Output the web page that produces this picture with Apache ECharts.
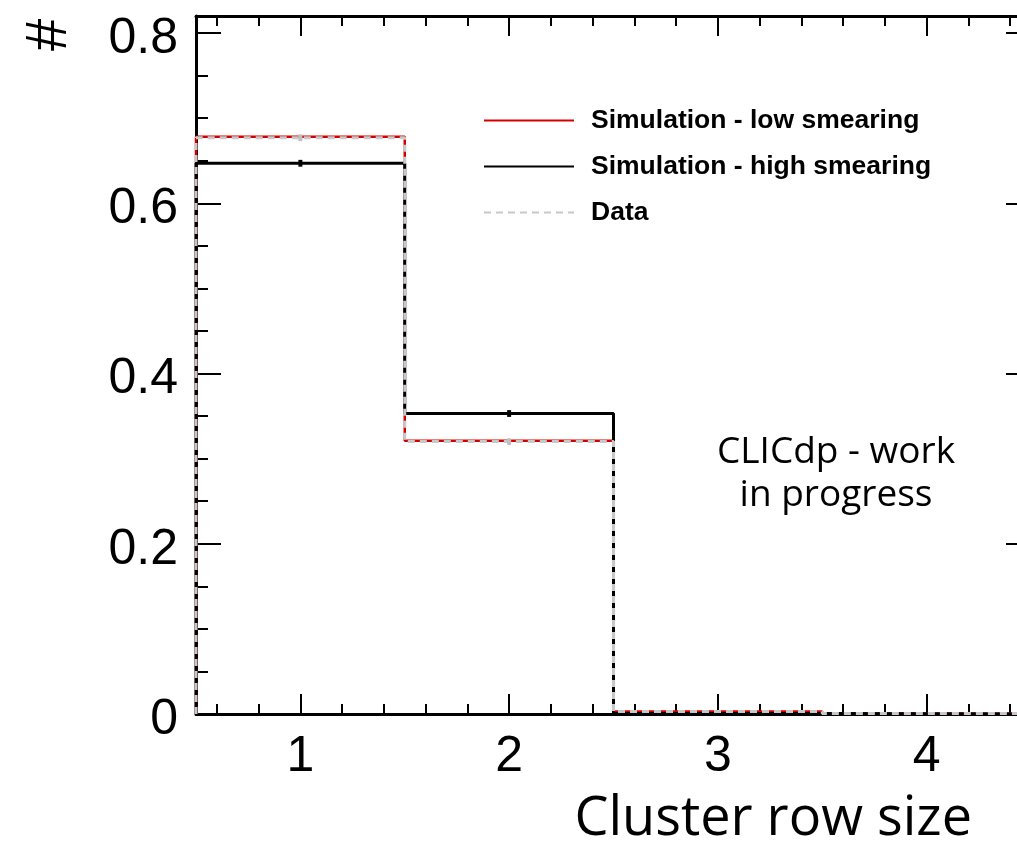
<!DOCTYPE html>
<html>
<head>
<meta charset="utf-8">
<script src="https://cdn.jsdelivr.net/npm/echarts@6/dist/echarts.min.js"></script>
<style>html,body{margin:0;padding:0;background:#fff;}#c{width:1017px;height:842px;}</style>
</head>
<body>
<div id="c"></div>
<script>
// ---- data ----
var binCenters = [1, 2, 3, 4];
var lowSmearing = [0.678, 0.321, 0.003, 0.0005];
var highSmearing = [0.647, 0.353, 0.0006, 0.0];
var dataVals = [0.677, 0.320, 0.003, 0.0005];
var highErr = [0.004, 0.004, 0, 0];
var dataErr = [0.004, 0.004, 0, 0];
var xMajorTicks = [1, 2, 3, 4];
var seriesNames = ['Simulation - low smearing', 'Simulation - high smearing', 'Data'];
var xTitle = 'Cluster row size';
var yTitle = '#';
var noteText = 'CLICdp - work\nin progress';

function stepPoints(vals) {
  var pts = [[binCenters[0] - 0.5, 0]];
  for (var i = 0; i < vals.length; i++) {
    pts.push([binCenters[i] - 0.5, vals[i]]);
    pts.push([binCenters[i] + 0.5, vals[i]]);
  }
  pts.push([binCenters[binCenters.length - 1] + 0.5, 0]);
  return pts;
}
function errData(vals, errs) {
  var out = [];
  for (var i = 0; i < vals.length; i++) if (errs[i] > 0) out.push([binCenters[i], vals[i] - errs[i], vals[i] + errs[i]]);
  return out;
}
var minorX = [];
for (var k = 0; k < 20; k++) minorX.push(Math.round((0.6 + 0.2 * k) * 10) / 10);

var FONT = "'Liberation Sans', Arial, Helvetica, sans-serif";
var HUM = "'Open Sans', 'Noto Sans', sans-serif";

function xAx(pos, vals, len, showLine, showLabel) {
  return {
    type: 'value', position: pos, min: 0.5, max: 4.5,
    axisLine: {show: showLine, lineStyle: {color: '#000', width: 3}},
    axisTick: {show: true, inside: true, length: len, customValues: vals, lineStyle: {color: '#000', width: 2}},
    axisLabel: {show: showLabel, customValues: xMajorTicks, margin: 18, fontSize: 50, color: '#000', fontFamily: FONT},
    splitLine: {show: false}
  };
}
function yAx(pos, showLabel) {
  return {
    type: 'value', position: pos, min: 0, max: 0.82, interval: 0.2,
    axisLine: {show: true, lineStyle: {color: '#000', width: 3}},
    axisTick: {show: true, inside: true, length: 25, lineStyle: {color: '#000', width: 2}},
    minorTick: {show: true, splitNumber: 4, length: 12, lineStyle: {color: '#000', width: 2}},
    axisLabel: {show: showLabel, margin: 18, color: '#000',
      formatter: function (v) { return '{a|' + (v === 0 ? '0' : v.toFixed(1)) + '}'; },
      rich: {a: {fontSize: 50, fontFamily: FONT, color: '#000', padding: [12, 0, 0, 0]}},
      showMaxLabel: false},
    splitLine: {show: false}
  };
}

var xAxes = [xAx('bottom', xMajorTicks, 20, true, true), xAx('bottom', minorX, 10, false, false),
             xAx('top', xMajorTicks, 20, true, false), xAx('top', minorX, 10, false, false)];
xAxes[0].name = xTitle;
xAxes[0].nameLocation = 'end';
xAxes[0].nameGap = -59;
xAxes[0].nameTextStyle = {fontFamily: HUM, fontSize: 54, color: '#000', align: 'right', verticalAlign: 'top', padding: [79, 0, 0, 0]};

var yAxes = [yAx('left', true), yAx('right', false)];

function errSeries(name, vals, errs, color) {
  return {
    type: 'custom', name: name + ' err', xAxisIndex: 0, yAxisIndex: 0, z: 5,
    data: errData(vals, errs),
    renderItem: function (params, api) {
      var p0 = api.coord([api.value(0), api.value(1)]);
      var p1 = api.coord([api.value(0), api.value(2)]);
      return {type: 'line', shape: {x1: p0[0], y1: p0[1], x2: p1[0], y2: p1[1]}, style: {stroke: color, lineWidth: 4}};
    }
  };
}

var chart = echarts.init(document.getElementById('c'), null, {renderer: 'canvas'});
chart.setOption({
  animation: false,
  backgroundColor: '#fff',
  grid: {left: 196, top: 16, width: 835, height: 698, containLabel: false, outerBoundsMode: 'none'},
  xAxis: xAxes,
  yAxis: yAxes,
  legend: {
    data: seriesNames, orient: 'vertical', left: 478, top: 102,
    itemWidth: 90, itemHeight: 14, itemGap: 19, selectedMode: false,
    itemStyle: {opacity: 0},
    textStyle: {fontFamily: FONT, fontWeight: 'bold', fontSize: 26.5, color: '#000', padding: [0, 0, 0, 12]}
  },
  graphic: [
    {type: 'text', x: 836, y: 431,
     style: {text: noteText, fontFamily: HUM, fontSize: 37, lineHeight: 43, fill: '#000', align: 'center'}},
    {type: 'text', x: 21, y: 51, rotation: Math.PI / 2,
     style: {text: yTitle, fontFamily: FONT, fontSize: 58, fill: '#000'}}
  ],
  series: [
    {type: 'line', name: seriesNames[0], data: stepPoints(lowSmearing), symbol: 'none', z: 2,
     lineStyle: {color: '#d40000', width: 2.5}, itemStyle: {color: '#d40000'}},
    {type: 'line', name: seriesNames[1], data: stepPoints(highSmearing), symbol: 'none', z: 3,
     lineStyle: {color: '#000', width: 3}, itemStyle: {color: '#000'}},
    {type: 'line', name: seriesNames[2], data: stepPoints(dataVals), symbol: 'none', z: 4,
     lineStyle: {color: '#c8c8c8', width: 3, type: [7, 5]}, itemStyle: {color: '#c8c8c8'}},
    errSeries(seriesNames[1], highSmearing, highErr, '#000'),
    errSeries(seriesNames[2], dataVals, dataErr, '#c0c0c0')
  ]
});
</script>
</body>
</html>
